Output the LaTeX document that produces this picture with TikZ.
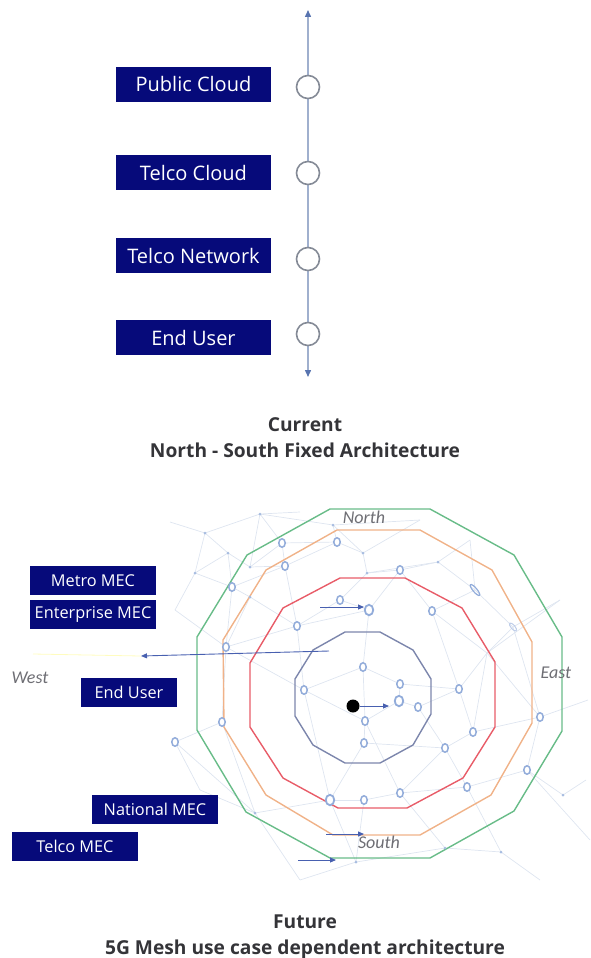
\documentclass[tikz,border=0pt]{standalone}
\usepackage{fontspec}
\setmainfont{Open Sans}
\newfontfamily\compassfont{Carlito}
\usetikzlibrary{arrows.meta,shapes.geometric}

\definecolor{navy}{RGB}{6,10,122}
\definecolor{titlegray}{RGB}{52,52,56}
\definecolor{axisblue}{RGB}{160,176,206}
\definecolor{tipblue}{RGB}{88,116,176}
\definecolor{ringgray}{RGB}{132,138,150}
\definecolor{ringgreen}{RGB}{104,188,136}
\definecolor{ringorange}{RGB}{240,178,136}
\definecolor{ringred}{RGB}{232,92,104}
\definecolor{ringslate}{RGB}{124,134,172}
\definecolor{meshline}{RGB}{222,229,240}
\definecolor{meshnode}{RGB}{146,172,218}
\definecolor{flowblue}{RGB}{72,96,176}
\definecolor{compassgray}{RGB}{110,110,116}

\tikzset{
  layerbox/.style={fill=navy, text=white, inner sep=0pt, font=\fontsize{20}{23}\selectfont},
  mecbox/.style={fill=navy, text=white, inner sep=0pt, minimum height=29pt, font=\fontsize{16.3}{18}\selectfont},
  stopcircle/.style={circle, draw=ringgray, fill=white, line width=1.6pt, minimum size=23pt, inner sep=0pt},
  heading/.style={text=titlegray, font=\fontsize{19.2}{26.5}\selectfont\bfseries, align=center},
  compass/.style={text=compassgray, font=\compassfont\itshape\fontsize{18}{20}\selectfont},
  meshlink/.style={draw=meshline, line width=0.7pt},
  mring/.style={ellipse, draw=meshnode, line width=1.5pt, fill=white, minimum width=6.5pt, minimum height=8.5pt, inner sep=0pt},
  mringbig/.style={mring, minimum width=8.5pt, minimum height=10.5pt, line width=1.8pt},
  mdot/.style={circle, fill=meshnode!80, minimum size=3pt, inner sep=0pt},
  flow/.style={draw=flowblue, line width=0.9pt, -{Triangle[length=6pt,width=5pt]}},
  zone/.style={line width=1.4pt, line join=round},
}

\begin{document}
\begin{tikzpicture}[x=1pt,y=-1pt]
\useasboundingbox (0,0) rectangle (591,958);

% ---------- current: north-south chain ----------
\coordinate (axtop) at (308,10);
\coordinate (axbot) at (308,377);
\draw[axisblue, line width=1.4pt, {Triangle[length=7pt,width=6pt,color=tipblue]}-{Triangle[length=7pt,width=6pt,color=tipblue]}] (axtop) -- (axbot);

\node[stopcircle] (c1) at (308,87) {};
\node[stopcircle] (c2) at (308,173) {};
\node[stopcircle] (c3) at (308,259) {};
\node[stopcircle] (c4) at (308,334) {};

\node[layerbox, minimum width=155pt, minimum height=35pt] (b1) at (193.5,84.5) {Public Cloud};
\node[layerbox, minimum width=155pt, minimum height=35pt] (b2) at (193.5,172.5) {Telco Cloud};
\node[layerbox, minimum width=155pt, minimum height=35pt] (b3) at (193.5,255.5) {Telco Network};
\node[layerbox, minimum width=155pt, minimum height=35pt] (b4) at (193.5,337.5) {End User};

\node[heading] (t1) at (305,437.5) {Current\\North - South Fixed Architecture};

% ---------- future: mesh ----------
% mesh vertices
\foreach \n/\x/\y in {
  p1/260/514, p2/205/533, p3/228/553, p4/195/573, p5/250/567, p6/282/543,
  p7/333/525, p8/337/542, p9/285/566, p10/232/587, p11/250/597, p12/340/600,
  p13/369/610, p14/297/626, p15/226/647, p16/363/553, p17/367/573, p18/400/570,
  p19/432/611, p20/487/653, p21/475/590, p22/513/627, p23/363/667, p24/304/690,
  p25/400/684, p26/459/689, p27/399/701, p28/418/707, p29/365/721, p30/222/722,
  p31/473/732, p32/364/743, p33/445/748, p34/540/717, p35/527/770, p36/467/787,
  p37/400/793, p38/364/800, p39/330/800, p40/255/813, p41/356/862, p42/445/848,
  p43/501/852, p44/563/795, p45/175/742, p46/438/562,
  q1/170/522, q2/300/512, q3/420/520, q4/586/780, q5/588/700, q6/560/600,
  q7/200/790, q8/175/610, q9/540/880, q10/300/880, q11/590/840, q12/470/540}
  {\coordinate (\n) at (\x,\y);}

\foreach \a/\b in {
  p1/p2, p1/p7, p1/q2, p2/p3, p2/p4, p2/q1, p3/p5, p3/p4, p4/p10, p5/p6, p6/p8, p6/p1,
  p5/p9, p9/p10, p10/p11, p11/p15, p9/p14, p6/p9, p7/p16, p8/p16, p8/p9, p16/p17,
  p17/p12, p12/p13, p13/p18, p17/p18, p18/p19, p18/p46, p46/p21, p19/p21, p19/p20,
  p21/p22, p22/p20, p14/p13, p14/p15, p14/p24, p15/p24, p15/p30, p30/p45, p24/p23,
  p23/p13, p23/p25, p25/p27, p27/p28, p28/p26, p26/p20, p19/p26, p20/p34, p34/p35,
  p26/p31, p31/p34, p27/p29, p29/p32, p32/p33, p33/p31, p33/p36, p36/p35, p35/p44,
  p36/p43, p37/p33, p37/p38, p38/p39, p39/p40, p39/p32, p30/p40, p24/p29, p37/p42,
  p42/p43, p38/p41, p41/p42, p39/p41, p40/p45, p24/p39, p29/p37, p36/p37, p20/p31,
  p34/q5, p44/q4, p22/q6, p20/q6, p45/q7, p40/q7, p15/q8, p4/q8, p7/q3, p16/q3,
  p46/q12, p21/q12, p43/q9, p35/q11, p41/q10, p40/q10, p10/p15, p12/p14, p25/p26,
  p28/p33, p29/p23, p11/p14, p3/p10, p1/p5, p8/p7, p17/p46, p22/p34}
  {\draw[meshlink] (\a) -- (\b);}

% nested zones
\draw[zone, ringgreen] (330,509) -- (430,509) -- (514,555) -- (562,637) -- (562,731) -- (514,811)
  -- (430,858) -- (330,858) -- (246,812) -- (197,730) -- (197,637) -- (247,555) -- cycle;
\draw[zone, ringorange] (337,530) -- (420,530) -- (492,570) -- (532,642) -- (532,723) -- (491,795)
  -- (420,835) -- (333,835) -- (266,795) -- (224,727) -- (223,640) -- (266,570) -- cycle;
\draw[zone, ringred] (340,578) -- (405,578) -- (462,608) -- (495,662) -- (495,727) -- (463,778)
  -- (407,808) -- (338,808) -- (283,778) -- (250,727) -- (250,663) -- (283,608) -- cycle;
\draw[zone, ringslate] (345,632) -- (380,632) -- (413,650) -- (431,679) -- (431,714) -- (413,745)
  -- (380,763) -- (345,763) -- (313,745) -- (295,716) -- (295,679) -- (313,650) -- cycle;

% mesh sites
\foreach \n in {p6,p8,p9,p10,p12,p14,p15,p18,p19,p23,p24,p25,p26,p28,p29,p30,p31,p32,p33,p34,p35,p36,p37,p38,p45}
  {\node[mring] at (\n) {};}
\foreach \n in {p13,p27,p39}
  {\node[mringbig] at (\n) {};}
\foreach \n in {p1,p2,p3,p4,p5,p7,p11,p16,p17,p40,p41,p42,p43,p44,p46}
  {\node[mdot] at (\n) {};}
\node[ellipse, draw=meshnode, line width=1.2pt, minimum width=4pt, minimum height=14pt, inner sep=0pt, rotate=40] at (p21) {};
\node[ellipse, draw=meshnode!60, line width=1pt, minimum width=4pt, minimum height=10pt, inner sep=0pt, rotate=40] at (p22) {};

% centre user and flows
\node[circle, fill=black, minimum size=13pt, inner sep=0pt] (hub) at (353,706) {};
\coordinate (hubto) at (389,706);
\draw[flow] (hub) -- (hubto);

\coordinate (f1a) at (320,607); \coordinate (f1b) at (364,607);
\draw[flow] (f1a) -- (f1b);
\coordinate (wa) at (329,651); \coordinate (wb) at (141,656); \coordinate (wc) at (33,654);
\draw[draw=yellow!25!white, line width=0.8pt] (wb) -- (wc);
\draw[flow] (wa) -- (wb);
\coordinate (f3a) at (326,834); \coordinate (f3b) at (364,834);
\draw[flow] (f3a) -- (f3b);
\coordinate (f4a) at (298,860); \coordinate (f4b) at (336,860);
\draw[flow] (f4a) -- (f4b);

% compass labels
\node[compass] (north) at (364,517) {North};
\node[compass] (east) at (556,673) {East};
\node[compass] (south) at (379,842) {South};
\node[compass] (west) at (30,678) {West};

% edge tiers
\node[mecbox, minimum width=126pt] (metro) at (93,580.5) {Metro MEC};
\node[mecbox, minimum width=126pt] (enterprise) at (93,614.5) {Enterprise MEC};
\node[mecbox, minimum width=96pt] (enduser) at (129,692.5) {End User};
\node[mecbox, minimum width=126pt] (national) at (155,809) {National MEC};
\node[mecbox, minimum width=126pt] (telco) at (75,846.5) {Telco MEC};

\node[heading] (t2) at (305,937) {Future\\5G Mesh use case dependent architecture};
\end{tikzpicture}
\end{document}
